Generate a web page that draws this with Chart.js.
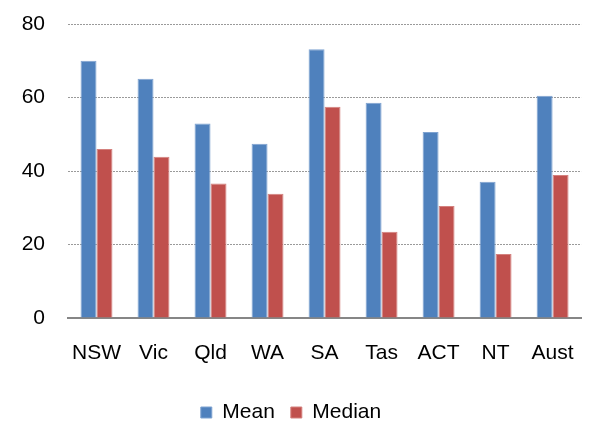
<!DOCTYPE html>
<html>
<head>
<meta charset="utf-8">
<script src="https://cdn.jsdelivr.net/npm/chart.js@4"></script>
<style>
  html, body { margin: 0; padding: 0; background: #fff; }
  #wrap { width: 589px; height: 423px; }
</style>
</head>
<body>
<div id="wrap"><canvas id="chart" width="589" height="423"></canvas></div>
<script>
const states = ['NSW', 'Vic', 'Qld', 'WA', 'SA', 'Tas', 'ACT', 'NT', 'Aust'];
const meanVals = [70.0, 65.1, 52.9, 47.4, 73.1, 58.6, 50.6, 37.1, 60.5];
const medianVals = [46.0, 43.9, 36.6, 33.8, 57.5, 23.5, 30.5, 17.4, 38.9];
const yTicks = [0, 20, 40, 60, 80];

const font = { family: '"Liberation Sans", Arial, sans-serif', size: 21 };

// legend box keeps its drawing offsets, only its reserved height is trimmed
const legendHeight = {
  id: 'legendHeight',
  beforeLayout(chart) {
    const lg = chart.legend;
    if (lg && !lg._trimmed) {
      const fit = lg.fit;
      lg.fit = function () { fit.call(this); this.height = 37; };
      lg._trimmed = true;
    }
  },
};

const config = {
  type: 'bar',
  data: {
    labels: states,
    datasets: [
      {
        label: 'Mean',
        data: meanVals,
        backgroundColor: '#4f81bd',
        borderColor: '#7fa3d1',
        borderWidth: 1,
        borderSkipped: 'bottom',
      },
      {
        label: 'Median',
        data: medianVals,
        backgroundColor: '#c0504d',
        borderColor: '#d4817e',
        borderWidth: 1,
        borderSkipped: 'bottom',
      },
    ],
  },
  options: {
    responsive: false,
    animation: false,
    layout: { padding: { top: 24, right: 7, left: 0, bottom: 0 } },
    datasets: {
      bar: { categoryPercentage: 0.56, barPercentage: 1 },
    },
    plugins: {
      tooltip: { enabled: false },
      legend: {
        position: 'bottom',
        labels: {
          color: '#000',
          font: font,
          boxWidth: 11,
          boxHeight: 11,
          padding: 16,
        },
      },
    },
    scales: {
      x: {
        grid: { display: false },
        border: { color: '#868686', width: 2 },
        ticks: { color: '#000', font: font, padding: 15 },
        afterFit: (scale) => { scale.height = 68; },
      },
      y: {
        min: 0,
        max: 80,
        afterBuildTicks: (scale) => { scale.ticks = yTicks.map(v => ({ value: v })); },
        border: { display: false, dash: [2, 1] },
        grid: {
          color: (ctx) => ctx.tick && ctx.tick.value === 0 ? 'rgba(0,0,0,0)' : '#9a9a9a',
          lineWidth: 1,
          drawTicks: false,
        },
        ticks: { color: '#000', font: font, padding: 23 },
        afterFit: (scale) => {
          scale.width = 68;
          scale.paddingTop = 0;
          scale.paddingBottom = 0;
        },
      },
    },
  },
  plugins: [legendHeight],
};

new Chart(document.getElementById('chart'), config);
</script>
</body>
</html>
